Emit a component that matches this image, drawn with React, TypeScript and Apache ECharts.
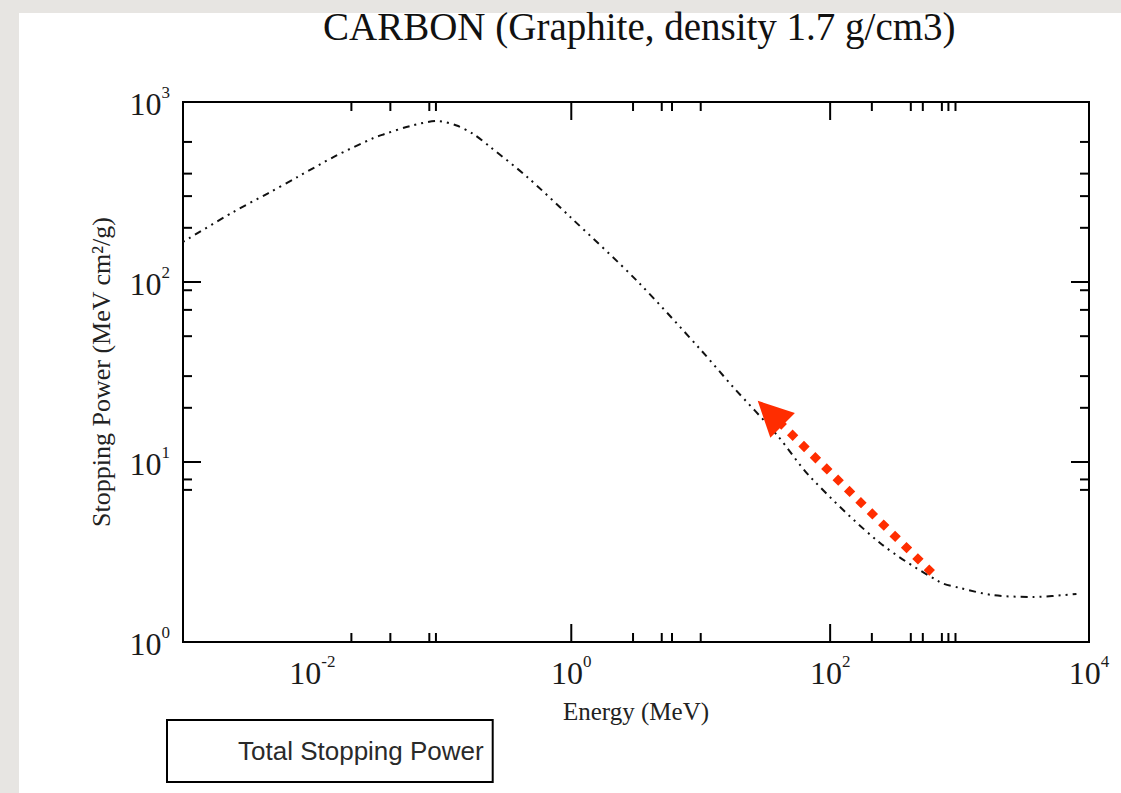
import React, { useEffect, useRef } from "react";
import * as echarts from "echarts";

// Total stopping power of graphite (MeV cm^2/g) against particle energy (MeV)
const energyMeV = [
  0.001, 0.00245, 0.0045, 0.00766, 0.015, 0.0296, 0.0353, 0.0571, 0.0923, 0.13,
  0.175, 0.237, 0.457, 0.98, 3.24, 10, 17.8, 38.9, 70.2, 243, 708, 1000, 1820,
  3700, 8000,
];
const stoppingPower = [
  167, 245, 310, 383, 500, 631, 660, 736, 784, 740,
  664, 562, 383, 230, 101, 42, 26.1, 14.1, 8.26, 3.55, 2.15, 2.0, 1.82,
  1.78, 1.85,
];

// Axis ranges and tick marks
const xRange = [0.001, 10000];
const yRange = [1, 1000];
const xMajorTicks = [1, 100];
const xMinorTicks = [0.02, 0.04, 0.08, 0.09, 3, 5, 6, 10, 210, 420, 520, 730, 820, 930];
const yMajorTicks = [10, 100];
const yMinorTicks = [7, 8, 20, 30, 50, 70, 90, 200, 300, 400, 600];
const xLabelExponents = [-2, 0, 2, 4];
const yLabelExponents = [0, 1, 2, 3];

// Red dotted arrow annotation, [energy, stopping power]
const arrowTail = [614, 2.42];
const arrowHead = [34.4, 18.7];

const titleText = "CARBON (Graphite, density 1.7 g/cm3)";
const seriesName = "Total Stopping Power";
const xName = "Energy (MeV)";
const yName = "Stopping Power (MeV cm\u00B2/g)";

const SERIF = "'Liberation Serif', 'Times New Roman', serif";
const SANS = "'Liberation Sans', Arial, sans-serif";

const powerLabel = (exponents: number[]) => (value: number) => {
  const e = Math.round(Math.log10(value));
  if (!exponents.includes(e)) return "";
  return `{b|10}{e|${e}}`;
};

const labelRich = {
  b: { fontFamily: SERIF, fontSize: 32, color: "#1a1a1a", lineHeight: 36, verticalAlign: "bottom" },
  e: { fontFamily: SERIF, fontSize: 17, color: "#1a1a1a", lineHeight: 17, verticalAlign: "top" },
};

function tickSeries(values: number[], dir: "x" | "y", len: number) {
  return {
    type: "custom",
    silent: true,
    clip: false,
    z: 5,
    data: values.map((v) => (dir === "x" ? [v, yRange[0]] : [xRange[0], v])),
    encode: { x: 0, y: 1 },
    renderItem: (params: any, api: any) => {
      const cs = params.coordSys;
      const p = api.coord([api.value(0), api.value(1)]);
      const style = { stroke: "#000", lineWidth: 2 };
      if (dir === "x") {
        const bottom = cs.y + cs.height;
        return {
          type: "group",
          children: [
            { type: "line", shape: { x1: p[0], y1: bottom, x2: p[0], y2: bottom - len }, style },
            { type: "line", shape: { x1: p[0], y1: cs.y, x2: p[0], y2: cs.y + len }, style },
          ],
        };
      }
      const right = cs.x + cs.width;
      return {
        type: "group",
        children: [
          { type: "line", shape: { x1: cs.x, y1: p[1], x2: cs.x + len, y2: p[1] }, style },
          { type: "line", shape: { x1: right, y1: p[1], x2: right - len, y2: p[1] }, style },
        ],
      };
    },
  };
}

export default function App() {
  const ref = useRef<HTMLDivElement>(null);

  useEffect(() => {
    if (!ref.current) return;
    const chart = echarts.init(ref.current, null, { renderer: "svg" });

    const option = {
      animation: false,
      backgroundColor: "#e7e5e2",
      graphic: [
        {
          type: "rect",
          z: -100,
          silent: true,
          shape: { x: 19, y: 13, width: 1102, height: 780 },
          style: { fill: "#ffffff" },
        },
      ],
      title: {
        text: titleText,
        left: 323,
        top: 7,
        padding: 0,
        textStyle: { fontFamily: SERIF, fontSize: 39, fontWeight: "normal", color: "#111" },
      },
      legend: {
        data: [seriesName],
        left: 167,
        top: 720,
        orient: "horizontal",
        padding: [18, 9, 18, 10],
        itemWidth: 55,
        itemHeight: 14,
        itemGap: 0,
        borderColor: "#000",
        borderWidth: 2,
        borderRadius: 0,
        backgroundColor: "#fff",
        selectedMode: false,
        itemStyle: { opacity: 0 },
        lineStyle: { opacity: 0 },
        textStyle: { fontFamily: SANS, fontSize: 26, lineHeight: 26, color: "#2a2a2a" },
      },
      grid: {
        show: true,
        left: 183,
        right: 32,
        top: 102,
        bottom: 151,
        borderColor: "#000",
        borderWidth: 2,
        backgroundColor: "transparent",
      },
      xAxis: {
        type: "log",
        logBase: 10,
        min: xRange[0],
        max: xRange[1],
        splitNumber: 7,
        name: xName,
        nameLocation: "middle",
        nameGap: 57,
        nameTextStyle: { fontFamily: SERIF, fontSize: 25, color: "#222" },
        axisLine: { show: false },
        axisTick: { show: false },
        splitLine: { show: false },
        minorTick: { show: false },
        axisLabel: {
          show: true,
          margin: 11,
          showMinLabel: true,
          showMaxLabel: true,
          formatter: powerLabel(xLabelExponents),
          rich: labelRich,
        },
      },
      yAxis: {
        type: "log",
        logBase: 10,
        min: yRange[0],
        max: yRange[1],
        splitNumber: 3,
        name: yName,
        nameLocation: "middle",
        nameGap: 69,
        nameRotate: 90,
        nameTextStyle: { fontFamily: SERIF, fontSize: 26, color: "#222" },
        axisLine: { show: false },
        axisTick: { show: false },
        splitLine: { show: false },
        minorTick: { show: false },
        axisLabel: {
          show: true,
          margin: 13,
          showMinLabel: true,
          showMaxLabel: true,
          formatter: powerLabel(yLabelExponents),
          rich: labelRich,
        },
      },
      series: [
        {
          name: seriesName,
          type: "line",
          data: energyMeV.map((e, i) => [e, stoppingPower[i]]),
          showSymbol: false,
          smooth: 0.3,
          z: 3,
          lineStyle: { color: "#111", width: 2, type: [2, 5, 2, 5, 7, 5] },
          emphasis: { disabled: true },
          markLine: {
            silent: true,
            animation: false,
            symbol: ["none", "triangle"],
            symbolSize: 35,
            label: { show: false },
            emphasis: { disabled: true },
            lineStyle: { color: "#ff2d00", width: 8, type: [8, 8], cap: "butt", opacity: 1 },
            itemStyle: { color: "#ff2d00", opacity: 1 },
            data: [[{ coord: arrowTail }, { coord: arrowHead }]],
          },
        },
        tickSeries(xMajorTicks, "x", 18),
        tickSeries(xMinorTicks, "x", 9),
        tickSeries(yMajorTicks, "y", 18),
        tickSeries(yMinorTicks, "y", 9),
      ],
    };

    chart.setOption(option as any);
    return () => chart.dispose();
  }, []);

  return (
    <div
      ref={ref}
      style={{ position: "absolute", left: 0, top: 0, width: 1121, height: 793 }}
    />
  );
}
